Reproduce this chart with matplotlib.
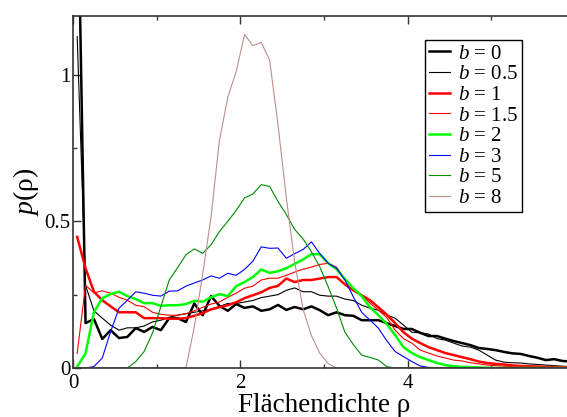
import numpy as np
import matplotlib
matplotlib.use("Agg")
import matplotlib.pyplot as plt
from matplotlib.ticker import MultipleLocator, FuncFormatter

plt.rcParams['font.family'] = ['Liberation Serif', 'DejaVu Serif']
plt.rcParams['mathtext.fontset'] = 'custom'
plt.rcParams['mathtext.rm'] = 'Liberation Serif'
plt.rcParams['mathtext.it'] = 'Liberation Serif:italic'

rho = np.round(np.arange(0.05, 6.0, 0.1), 2)

b_labels = ["0", "0.5", "1", "1.5", "2", "3", "5", "8"]

p_b0 = [1.77, 0.153, 0.167, 0.099, 0.129, 0.102, 0.106, 0.136, 0.123, 0.14,
        0.129, 0.17, 0.17, 0.157, 0.22, 0.18, 0.245, 0.212, 0.195, 0.218,
        0.205, 0.21, 0.195, 0.20, 0.215, 0.198, 0.208, 0.20, 0.21, 0.197,
        0.18, 0.19, 0.18, 0.178, 0.163, 0.163, 0.163, 0.153, 0.143, 0.133,
        0.133, 0.12, 0.109, 0.109, 0.10, 0.092, 0.085, 0.078, 0.068, 0.065,
        0.061, 0.055, 0.05, 0.048, 0.041, 0.035, 0.027, 0.03, 0.024, 0.022]

p_b05 = [1.13, 0.282, 0.195, 0.17, 0.146, 0.129, 0.137, 0.137, 0.143, 0.157,
         0.163, 0.173, 0.18, 0.185, 0.19, 0.195, 0.20, 0.21, 0.22, 0.22,
         0.225, 0.23, 0.24, 0.245, 0.25, 0.265, 0.273, 0.26, 0.26, 0.248,
         0.245, 0.245, 0.235, 0.23, 0.214, 0.204, 0.197, 0.18, 0.17, 0.146,
         0.122, 0.12, 0.116, 0.10, 0.095, 0.085, 0.075, 0.071, 0.061, 0.044,
         0.027, 0.02, 0.018, 0.017, 0.014, 0.012, 0.01, 0.008, 0.006, 0.005]

p_b1 = [0.447, 0.34, 0.26, 0.231, 0.21, 0.19, 0.19, 0.19, 0.17, 0.17,
        0.17, 0.168, 0.168, 0.17, 0.178, 0.187, 0.20, 0.207, 0.214, 0.224,
        0.238, 0.248, 0.258, 0.273, 0.28, 0.305, 0.293, 0.30, 0.30, 0.305,
        0.31, 0.31, 0.285, 0.265, 0.248, 0.231, 0.207, 0.182, 0.153, 0.122,
        0.10, 0.085, 0.071, 0.061, 0.051, 0.044, 0.037, 0.03, 0.022, 0.017,
        0.014, 0.012, 0.009, 0.007, 0.006, 0.005, 0.004, 0.003, 0.003, 0.002]

p_b15 = [0.05, 0.282, 0.256, 0.263, 0.255, 0.241, 0.231, 0.214, 0.209, 0.19,
         0.183, 0.18, 0.18, 0.185, 0.195, 0.207, 0.218, 0.225, 0.241, 0.255,
         0.272, 0.279, 0.30, 0.306, 0.306, 0.316, 0.327, 0.337, 0.344, 0.353,
         0.357, 0.344, 0.303, 0.272, 0.248, 0.221, 0.197, 0.172, 0.129, 0.10,
         0.085, 0.061, 0.051, 0.041, 0.034, 0.027, 0.024, 0.018, 0.014, 0.01,
         0.008, 0.006, 0.005, 0.004, 0.003, 0.003, 0.002, 0.002, 0.001, 0.001]

p_b2 = [0.005, 0.05, 0.19, 0.238, 0.252, 0.26, 0.245, 0.235, 0.221, 0.221,
        0.212, 0.214, 0.214, 0.218, 0.229, 0.226, 0.241, 0.252, 0.245, 0.279,
        0.293, 0.31, 0.336, 0.324, 0.33, 0.34, 0.355, 0.37, 0.388, 0.388,
        0.357, 0.337, 0.303, 0.272, 0.245, 0.207, 0.18, 0.15, 0.112, 0.071,
        0.051, 0.037, 0.027, 0.017, 0.01, 0.006, 0.004, 0.003, 0.002, 0.001,
        0.0, 0.0, 0.0, 0.0, 0.0, 0.0, 0.0, 0.0, 0.0, 0.0]

p_b3 = [0.0, 0.0, 0.005, 0.034, 0.124, 0.204, 0.231, 0.26, 0.255, 0.248,
        0.245, 0.262, 0.263, 0.279, 0.29, 0.30, 0.314, 0.306, 0.323, 0.316,
        0.336, 0.364, 0.413, 0.408, 0.409, 0.374, 0.39, 0.404, 0.43, 0.39,
        0.357, 0.34, 0.30, 0.243, 0.19, 0.163, 0.136, 0.093, 0.056, 0.039,
        0.022, 0.007, 0.002, 0.001, 0.0, 0.0, 0.0, 0.0, 0.0, 0.0,
        0.0, 0.0, 0.0, 0.0, 0.0, 0.0, 0.0, 0.0, 0.0, 0.0]

p_b5 = [0.0, 0.0, 0.0, 0.0, 0.0, 0.0, 0.0, 0.022, 0.056, 0.119,
        0.209, 0.30, 0.342, 0.386, 0.406, 0.391, 0.42, 0.465, 0.5, 0.537,
        0.58, 0.593, 0.625, 0.619, 0.568, 0.523, 0.472, 0.44, 0.396, 0.345,
        0.277, 0.204, 0.122, 0.08, 0.044, 0.036, 0.027, 0.005, 0.0, 0.0,
        0.0, 0.0, 0.0, 0.0, 0.0, 0.0, 0.0, 0.0, 0.0, 0.0,
        0.0, 0.0, 0.0, 0.0, 0.0, 0.0, 0.0, 0.0, 0.0, 0.0]

p_b8 = [0.0, 0.0, 0.0, 0.0, 0.0, 0.0, 0.0, 0.0, 0.0, 0.0,
        0.0, 0.0, 0.0, 0.0, 0.14, 0.32, 0.515, 0.776, 0.923, 1.01,
        1.137, 1.099, 1.11, 1.05, 0.83, 0.58, 0.36, 0.2, 0.11, 0.05,
        0.015, 0.0, 0.0, 0.0, 0.0, 0.0, 0.0, 0.0, 0.0, 0.0,
        0.0, 0.0, 0.0, 0.0, 0.0, 0.0, 0.0, 0.0, 0.0, 0.0,
        0.0, 0.0, 0.0, 0.0, 0.0, 0.0, 0.0, 0.0, 0.0, 0.0]

series = [p_b0, p_b05, p_b1, p_b15, p_b2, p_b3, p_b5, p_b8]
colors = ["#000000", "#000000", "#ff0000", "#ff0000", "#00ff00", "#0000ff",
          "#008b00", "#bc8f8f"]
widths = [1.8, 0.8, 1.8, 0.8, 1.8, 0.8, 0.8, 0.8]

fig = plt.figure(figsize=(5.67, 4.17), dpi=100)
ax = fig.add_axes([73 / 567, 49 / 417, 502 / 567, 352 / 417])

for lab, ys, c, w in zip(b_labels, series, colors, widths):
    ax.plot(rho, ys, color=c, lw=w, label=f"$b$ = {lab}", clip_on=True)

ax.set_xlim(0, 6)
ax.set_ylim(0, 1.2)
ax.xaxis.set_major_locator(MultipleLocator(2))
ax.xaxis.set_minor_locator(MultipleLocator(1))
ax.yaxis.set_major_locator(MultipleLocator(0.5))
ax.yaxis.set_minor_locator(MultipleLocator(0.25))
ax.xaxis.set_major_formatter(FuncFormatter(lambda v, p: f"{v:g}" if v < 5.5 else ""))
ax.yaxis.set_major_formatter(FuncFormatter(lambda v, p: f"{v:g}"))

ax.tick_params(which='both', direction='in', top=True, right=True, width=1.0,
               color='#333333')
ax.tick_params(which='major', length=6, labelsize=15)
ax.tick_params(which='minor', length=3)
ax.tick_params(axis='y', which='major', pad=2)
ax.tick_params(axis='x', which='major', pad=4)
for s in ax.spines.values():
    s.set_linewidth(1.2)
    s.set_color('#333333')

ax.set_xlabel("Flächendichte ρ", fontsize=19.5, labelpad=0)
ax.set_ylabel("$p$(ρ)", fontsize=20, labelpad=2)

leg = ax.legend(loc='upper left', bbox_to_anchor=(0.701, 0.932),
                borderaxespad=0, fontsize=15, frameon=True, fancybox=False,
                edgecolor='black', framealpha=1, labelspacing=0.05,
                handlelength=1.0, handletextpad=0.4, borderpad=0.2)
leg.get_frame().set_linewidth(1.0)

fig.savefig("out.png", dpi=100)
